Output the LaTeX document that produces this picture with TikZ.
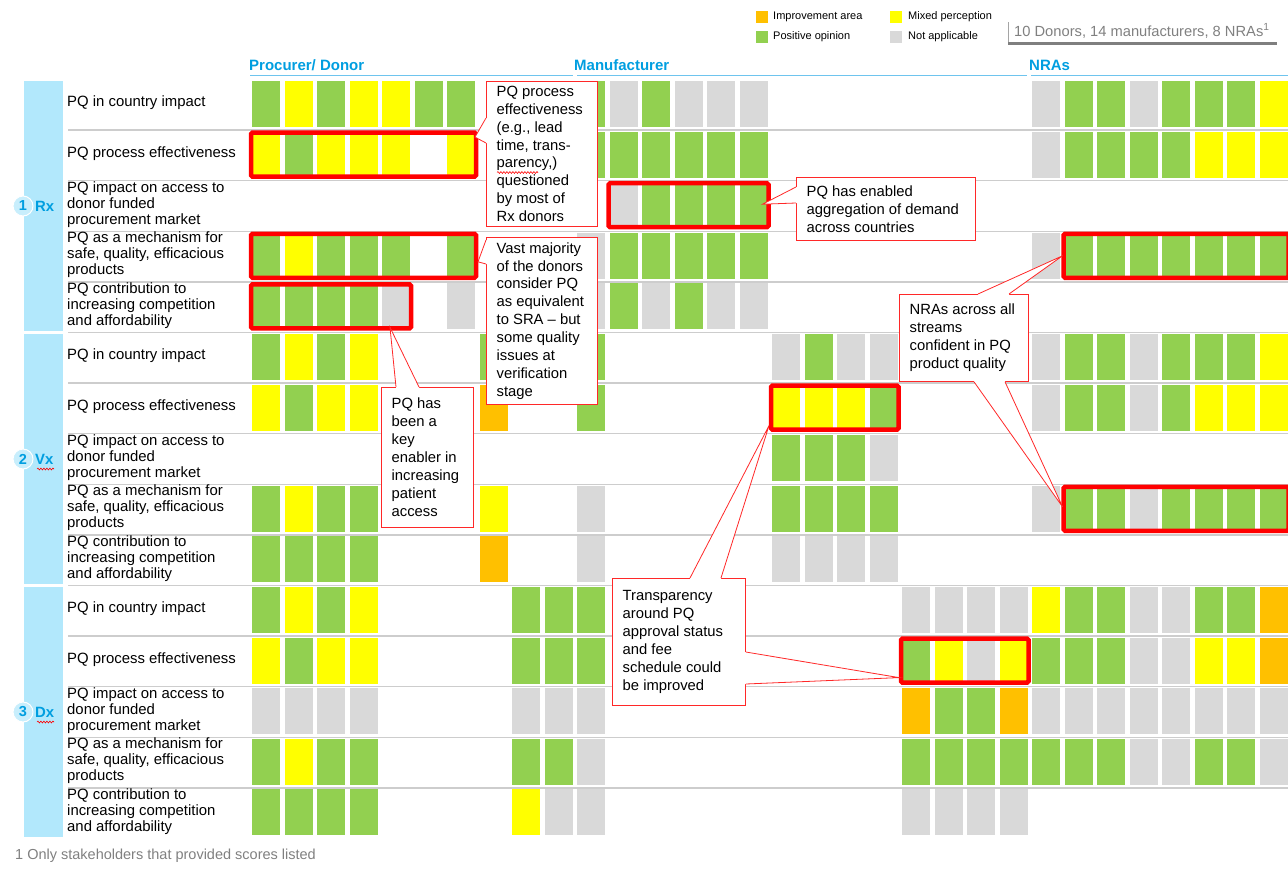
\documentclass[tikz,border=0pt]{standalone}
\usepackage{fontspec}
\setmainfont{Liberation Sans}
\usetikzlibrary{calc,decorations.pathmorphing}
\definecolor{cG}{RGB}{146,208,80}
\definecolor{cY}{RGB}{255,255,0}
\definecolor{cO}{RGB}{255,192,0}
\definecolor{cN}{RGB}{217,217,217}
\definecolor{barblue}{RGB}{178,232,252}
\definecolor{circblue}{RGB}{200,238,252}
\definecolor{hdrblue}{RGB}{0,158,224}
\definecolor{hdrline}{RGB}{110,196,238}
\definecolor{sepgray}{RGB}{205,205,205}
\definecolor{txtgray}{RGB}{128,128,128}
\definecolor{boxgray}{RGB}{127,127,127}
\definecolor{calred}{RGB}{255,40,40}
\newcommand\cellrow[2]{\foreach \c/\k in {#2}{\fill[fill=\k] ({252+32.5*\c},{79.5+50.6*#1+1.5}) rectangle ++(28,46);}}
\newcommand\hlbox[4]{\node[hl, minimum width={32.5*(#3-#2)+30}, minimum height=44, anchor=north west] (#1) at ({252+32.5*#2-1},{79.5+50.6*#4+2.5}) {};}
\newcommand\callwedge[5]{\fill[white] ($(#1)+(#4,#5)$) -- (#1) -- (#3) -- (#2) -- ($(#2)+(#4,#5)$) -- cycle;
  \draw[calred, line width=0.8] (#1) -- (#3) -- (#2);}
\tikzset{
  hl/.style={draw=red, line width=4.5, rounded corners=1.5, inner sep=0, outer sep=0},
  sepline/.style={draw=sepgray, line width=1.4},
  rowlab/.style={anchor=west, align=left, inner sep=0},
  hdr/.style={anchor=west, inner sep=0, text=hdrblue, font=\bfseries\fontsize{15}{18}\selectfont},
  numc/.style={circle, fill=circblue, draw=white, line width=1, minimum size=20, inner sep=0, text=hdrblue, font=\bfseries\fontsize{14.5}{17}\selectfont},
  strm/.style={anchor=west, inner sep=0, text=hdrblue, font=\bfseries\fontsize{14.9}{17}\selectfont},
  cbox/.style={draw=calred, fill=white, line width=0.8, inner sep=0, anchor=north west},
  ctext/.style={anchor=west, align=left, inner sep=0, font=\fontsize{14.8}{17.9}\selectfont},
  legtext/.style={anchor=west, inner sep=0, font=\fontsize{11}{13}\selectfont},
  spell/.style={draw=red, line width=0.6, decorate, decoration={snake, amplitude=0.9, segment length=3}}
}
\begin{document}
\begin{tikzpicture}[x=1pt,y=-1pt, font=\fontsize{14.9}{16}\selectfont]
\useasboundingbox (0,0) rectangle (1288,868);
% stream bars
\fill[barblue] (24,80.5) rectangle (63,330.5);
\fill[barblue] (24,333.5) rectangle (63,583.5);
\fill[barblue] (24,586.5) rectangle (63,836.5);
\node[numc] (n1) at (23,206) {1};
\node[strm] (s1) at (35,206) {Rx};
\node[numc] (n2) at (23,459) {2};
\node[strm] (s2) at (35,459) {Vx};
\node[numc] (n3) at (23,712) {3};
\node[strm] (s3) at (35,712) {Dx};
\draw[spell] (37,469) -- (54,469);
\draw[spell] (37,722) -- (54,722);
% separators
\foreach \r in {1,...,14}{\draw[sepline] (68,{79.5+50.6*\r}) -- (1288,{79.5+50.6*\r});}
% row labels
\foreach \b in {0,1,2}{
  \foreach \i/\txt in {0/{PQ in country impact},1/{PQ process effectiveness},2/{PQ impact on access to\\donor funded\\procurement market},3/{PQ as a mechanism for\\safe, quality, efficacious\\products},4/{PQ contribution to\\increasing competition\\and affordability}}{
    \node[rowlab] (lab-\b-\i) at (67,{79.5+50.6*(5*\b+\i)+23.5}) {\txt};
  }
}
% headers
\node[hdr] (hP) at (249,65) {Procurer/ Donor};
\node[hdr] (hM) at (574,65) {Manufacturer};
\node[hdr] (hN) at (1029,65) {NRAs};
\draw[hdrline, line width=1.8] (250,75.5) -- (573,75.5);
\draw[hdrline, line width=1.8] (577,75.5) -- (1027,75.5);
\draw[hdrline, line width=1.8] (1031,75.5) -- (1288,75.5);
% cells
\cellrow{0}{0/cG,1/cY,2/cG,3/cY,4/cY,5/cG,6/cG,10/cG,11/cN,12/cG,13/cN,14/cN,15/cN,24/cN,25/cG,26/cG,27/cN,28/cG,29/cG,30/cG,31/cY}
\cellrow{1}{0/cY,1/cG,2/cY,3/cY,4/cY,6/cY,10/cG,11/cG,12/cG,13/cG,14/cG,15/cG,24/cN,25/cG,26/cG,27/cG,28/cG,29/cY,30/cY,31/cY}
\cellrow{2}{11/cN,12/cG,13/cG,14/cG,15/cG}
\cellrow{3}{0/cG,1/cY,2/cG,3/cG,4/cG,6/cG,10/cN,11/cG,12/cG,13/cG,14/cG,15/cG,24/cN,25/cG,26/cG,27/cG,28/cG,29/cG,30/cG,31/cG}
\cellrow{4}{0/cG,1/cG,2/cG,3/cG,4/cN,6/cN,10/cN,11/cG,12/cN,13/cG,14/cN,15/cN}
\cellrow{5}{0/cG,1/cY,2/cG,3/cY,7/cG,10/cG,16/cN,17/cG,18/cN,19/cN,24/cN,25/cG,26/cG,27/cN,28/cG,29/cG,30/cG,31/cY}
\cellrow{6}{0/cY,1/cG,2/cY,3/cY,7/cO,10/cG,16/cY,17/cY,18/cY,19/cG,24/cN,25/cG,26/cG,27/cN,28/cG,29/cY,30/cY,31/cY}
\cellrow{7}{16/cG,17/cG,18/cG,19/cN}
\cellrow{8}{0/cG,1/cY,2/cG,3/cG,7/cY,10/cN,16/cG,17/cG,18/cG,19/cG,24/cN,25/cG,26/cG,27/cN,28/cG,29/cG,30/cG,31/cG}
\cellrow{9}{0/cG,1/cG,2/cG,3/cG,7/cO,10/cN,16/cN,17/cN,18/cN,19/cN}
\cellrow{10}{0/cG,1/cY,2/cG,3/cY,8/cG,9/cG,10/cG,20/cN,21/cN,22/cN,23/cN,24/cY,25/cG,26/cG,27/cN,28/cN,29/cG,30/cG,31/cO}
\cellrow{11}{0/cY,1/cG,2/cY,3/cY,8/cG,9/cG,10/cG,20/cG,21/cY,22/cN,23/cY,24/cG,25/cG,26/cG,27/cN,28/cN,29/cY,30/cY,31/cO}
\cellrow{12}{0/cN,1/cN,2/cN,3/cN,8/cN,9/cN,10/cN,20/cO,21/cG,22/cG,23/cO,24/cN,25/cN,26/cN,27/cN,28/cN,29/cN,30/cN,31/cN}
\cellrow{13}{0/cG,1/cY,2/cG,3/cG,8/cG,9/cG,10/cN,20/cG,21/cG,22/cG,23/cG,24/cG,25/cG,26/cG,27/cN,28/cN,29/cG,30/cG,31/cN}
\cellrow{14}{0/cG,1/cG,2/cG,3/cG,8/cY,9/cN,10/cN,20/cN,21/cN,22/cN,23/cN}
% callout boxes
\node[cbox, minimum width=111, minimum height=145] (c1) at (486,81) {};
\node[cbox, minimum width=179, minimum height=63] (c2) at (796,177) {};
\node[cbox, minimum width=111, minimum height=167] (c3) at (486,237) {};
\node[cbox, minimum width=92, minimum height=140] (c4) at (381,387) {};
\node[cbox, minimum width=129, minimum height=87] (c5) at (899,294) {};
\node[cbox, minimum width=133, minimum height=127] (c6) at (612,578) {};
% highlight boxes
\hlbox{hRx2}{0}{6}{1}
\hlbox{hRx4}{0}{6}{3}
\hlbox{hRx5}{0}{4}{4}
\hlbox{hRx3m}{11}{15}{2}
\hlbox{hRx4n}{25}{31}{3}
\hlbox{hVx2m}{16}{19}{6}
\hlbox{hVx4n}{25}{31}{8}
\hlbox{hDx2m}{20}{23}{11}
% wedge coordinates
\coordinate (w1a) at ($(c1.north west)+(0,37)$);
\coordinate (w1b) at ($(c1.north west)+(0,62)$);
\coordinate (w1t) at ($(hRx2.north east)+(-1,4.5)$);
\coordinate (w2a) at ($(c2.north west)+(0,10)$);
\coordinate (w2b) at ($(c2.north west)+(0,26)$);
\coordinate (w2t) at ($(hRx3m.east)+(-6,-1)$);
\coordinate (w3a) at ($(c3.north west)+(0,3)$);
\coordinate (w3b) at ($(c3.north west)+(0,27)$);
\coordinate (w3t) at ($(hRx4.east)+(2,6)$);
\coordinate (w4a) at ($(c4.north west)+(15,0)$);
\coordinate (w4b) at ($(c4.north west)+(38,0)$);
\coordinate (w4t) at ($(hRx5.south east)+(-21,-1)$);
\coordinate (w5a) at ($(c5.north west)+(79,0)$);
\coordinate (w5b) at ($(c5.north west)+(110,0)$);
\coordinate (w5t) at ($(hRx4n.west)+(-1,0)$);
\coordinate (w5c) at ($(c5.south west)+(75,0)$);
\coordinate (w5d) at ($(c5.south west)+(106,0)$);
\coordinate (w5u) at ($(hVx4n.west)+(-1,-2)$);
\coordinate (w6a) at ($(c6.north west)+(78,0)$);
\coordinate (w6b) at ($(c6.north west)+(109,0)$);
\coordinate (w6t) at ($(hVx2m.south west)+(-2,-4)$);
\coordinate (w6c) at ($(c6.north east)+(0,74)$);
\coordinate (w6d) at ($(c6.north east)+(0,106)$);
\coordinate (w6u) at ($(hDx2m.south west)+(-2,-5)$);
\callwedge{w1a}{w1b}{w1t}{1.5}{0}
\callwedge{w2a}{w2b}{w2t}{1.5}{0}
\callwedge{w3a}{w3b}{w3t}{1.5}{0}
\callwedge{w4a}{w4b}{w4t}{0}{1.5}
\callwedge{w5a}{w5b}{w5t}{0}{1.5}
\callwedge{w5c}{w5d}{w5u}{0}{-1.5}
\callwedge{w6a}{w6b}{w6t}{0}{1.5}
\callwedge{w6c}{w6d}{w6u}{-1.5}{0}
% callout texts
\node[ctext] (t1) at ($(c1.west)+(10.5,0)$) {PQ process\\effectiveness\\(e.g., lead\\time, trans-\\parency,)\\questioned\\by most of\\Rx donors};
\node[ctext] (t2) at ($(c2.west)+(10.5,0)$) {PQ has enabled\\aggregation of demand\\across countries};
\node[ctext] (t3) at ($(c3.west)+(10.5,0)$) {Vast majority\\of the donors\\consider PQ\\as equivalent\\to SRA -- but\\some quality\\issues at\\verification\\stage};
\node[ctext] (t4) at ($(c4.west)+(10.5,0)$) {PQ has\\been a\\key\\enabler in\\increasing\\patient\\access};
\node[ctext] (t5) at ($(c5.west)+(10.5,0)$) {NRAs across all\\streams\\confident in PQ\\product quality};
\node[ctext] (t6) at ($(c6.west)+(10.5,0)$) {Transparency\\around PQ\\approval status\\and fee\\schedule could\\be improved};
\draw[spell] (497,172.5) -- (538,172.5);
% legend
\fill[cO] (756,11) rectangle ++(12,12);
\node[legtext] (l1) at (773,17) {Improvement area};
\fill[cG] (756,31) rectangle ++(12,12);
\node[legtext] (l2) at (773,37) {Positive opinion};
\fill[cY] (890,11) rectangle ++(12,12);
\node[legtext] (l3) at (908,17) {Mixed perception};
\fill[cN] (890,31) rectangle ++(12,12);
\node[legtext] (l4) at (908,37) {Not applicable};
\draw[boxgray!70, line width=0.8] (1008,22) -- (1008,44);
\draw[boxgray, line width=3] (1008,43) -- (1277,43);
\node[anchor=west, inner sep=0, text=txtgray, font=\fontsize{14.7}{17}\selectfont] (stk) at (1014,31) {10 Donors, 14 manufacturers, 8 NRAs\textsuperscript{1}};
% footnote
\node[anchor=west, inner sep=0, text=txtgray, font=\fontsize{14.5}{17}\selectfont] (fn) at (15,856) {1 Only stakeholders that provided scores listed};
\end{tikzpicture}
\end{document}
